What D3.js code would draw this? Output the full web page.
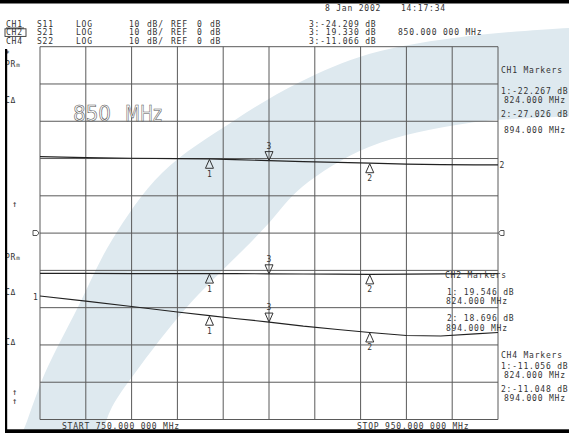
<!DOCTYPE html>
<html>
<head>
<meta charset="utf-8">
<script src="https://cdn.jsdelivr.net/npm/d3@7"></script>
<style>
  html, body { margin: 0; padding: 0; background: #fff; }
  svg { display: block; }
  .mono { font-family: "DejaVu Sans Mono", monospace; font-size: 8px; letter-spacing: 0.8px; fill: #333; }
</style>
</head>
<body>
<svg id="chart" width="569" height="433"></svg>
<script>
// ---- Sweep data (frequency in MHz, trace values in dB) ----
const freqMHz = [750, 770, 790, 810, 824, 835, 850, 865, 880, 894, 910, 925, 940, 950];
const s11dB = [-20.0, -21.0, -21.7, -22.0, -22.267, -23.2, -24.209, -25.3, -26.2, -27.026, -28.0, -28.6, -28.8, -28.9];
const s21dB = [19.8, 19.7, 19.6, 19.6, 19.546, 19.45, 19.330, 19.1, 18.9, 18.696, 18.9, 19.2, 19.5, 19.6];
const s22dB = [-4.07, -5.47, -6.89, -8.37, -9.36, -10.11, -11.066, -12.17, -13.06, -13.86, -14.67, -14.80, -14.21, -13.86];

// Markers: 1 and 2 are reference markers, 3 is the active marker
const markerIds = ["1", "2", "3"];
const markerFreqs = [824, 894, 850];

// Display scale per channel: top and bottom of graticule in dB
const ch1Domain = [98, -302];
const ch2Domain = [263, -137];
const ch4Domain = [62.8, -37.2];

// Frequency span
const sweepStart = 750, sweepStop = 950, xDivisions = 10, yDivisions = 10;

// Header / annotation text
const headerRows = [
  ["CH1", "S11", "LOG", "10", "dB/", "REF", "0", "dB"],
  ["CH2", "S21", "LOG", "10", "dB/", "REF", "0", "dB"],
  ["CH4", "S22", "LOG", "10", "dB/", "REF", "0", "dB"]
];
const dateText = ["8 Jan 2002", "14:17:34"];
const activeReadouts = ["3:-24.209 dB", "3: 19.330 dB", "3:-11.066 dB"];
const activeFreqText = "850.000 000 MHz";
const ch1MarkerText = ["CH1 Markers", "1:-22.267 dB", "824.000 MHz", "2:-27.026 dB", "894.000 MHz"];
const ch2MarkerText = ["CH2 Markers", "1: 19.546 dB", "824.000 MHz", "2: 18.696 dB", "894.000 MHz"];
const ch4MarkerText = ["CH4 Markers", "1:-11.056 dB", "824.000 MHz", "2:-11.048 dB", "894.000 MHz"];
const startText = "START 750.000 000 MHz";
const stopText = "STOP 950.000 000 MHz";
const titleText = ["850", "MHz"];

// ---- Layout ----
const W = 569, H = 433;
const plot = { left: 40, right: 498, top: 46.7, bottom: 419.5 };
const svg = d3.select("#chart");

const x = d3.scaleLinear().domain([sweepStart, sweepStop]).range([plot.left, plot.right]);
const divY = d3.scaleLinear().domain([0, yDivisions]).range([plot.top, plot.bottom]);
const yCh1 = d3.scaleLinear().domain(ch1Domain).range([plot.top, plot.bottom]);
const yCh2 = d3.scaleLinear().domain(ch2Domain).range([plot.top, plot.bottom]);
const yCh4 = d3.scaleLinear().domain(ch4Domain).range([plot.top, plot.bottom]);

svg.append("rect").attr("width", W).attr("height", H).attr("fill", "#fff");

// ---- Background swoosh ----
const outerEdge = [[10, 450], [22, 433], [32, 407], [45, 373], [78, 307], [112, 240], [162, 173], [235, 120], [300, 82], [369, 54], [469, 36], [585, 27]];
const innerEdge = [[585, 116], [469, 123], [369, 147], [302, 187], [269, 223], [253, 240], [187, 307], [135, 373], [112, 407], [102, 433], [96, 450]];
const edge = d3.line().curve(d3.curveCatmullRom);
svg.append("path")
  .attr("d", edge(outerEdge) + edge(innerEdge).replace(/^M/, "L") + "Z")
  .attr("fill", "#dee9ef");

// ---- Graticule ----
const g = svg.append("g");
const xLines = d3.range(0, xDivisions + 1).map(i => sweepStart + i * (sweepStop - sweepStart) / xDivisions);
g.selectAll("line.v").data(xLines).join("line")
  .attr("x1", d => x(d)).attr("x2", d => x(d))
  .attr("y1", plot.top).attr("y2", plot.bottom)
  .attr("stroke", "#5a5a5a").attr("stroke-width", 1);
g.selectAll("line.h").data(d3.range(0, yDivisions + 1)).join("line")
  .attr("x1", plot.left).attr("x2", plot.right)
  .attr("y1", d => divY(d)).attr("y2", d => divY(d))
  .attr("stroke", "#5a5a5a").attr("stroke-width", 1);

// ---- Traces ----
const channels = [
  { values: s11dB, y: yCh1 },
  { values: s21dB, y: yCh2 },
  { values: s22dB, y: yCh4 }
];
channels.forEach(ch => {
  const line = d3.line().x((d, i) => x(freqMHz[i])).y(d => ch.y(d));
  svg.append("path").attr("d", line(ch.values))
    .attr("fill", "none").attr("stroke", "#222").attr("stroke-width", 1.2);
});

// ---- Marker symbols ----
const mk = svg.append("g");
channels.forEach(ch => {
  markerIds.forEach((id, k) => {
    const f = markerFreqs[k];
    const mx = x(f);
    const my = ch.y(ch.values[freqMHz.indexOf(f)]);
    if (id === "3") {
      mk.append("path")
        .attr("d", `M${mx - 4},${my - 9} L${mx + 4},${my - 9} L${mx},${my} Z`)
        .attr("fill", "none").attr("stroke", "#333").attr("stroke-width", 1);
      mk.append("text").attr("class", "mono").attr("x", mx).attr("y", my - 12)
        .attr("text-anchor", "middle").style("letter-spacing", "0").text(id);
    } else {
      mk.append("path")
        .attr("d", `M${mx},${my + 0.5} L${mx + 4},${my + 9.5} L${mx - 4},${my + 9.5} Z`)
        .attr("fill", "none").attr("stroke", "#333").attr("stroke-width", 1);
      mk.append("text").attr("class", "mono").attr("x", mx).attr("y", my + 18)
        .attr("text-anchor", "middle").style("letter-spacing", "0").text(id);
    }
  });
});

// ---- Reference position indicators ----
svg.append("path").attr("d", `M33,230.5 L37,230.5 L39,233 L37,235.5 L33,235.5 Z`)
  .attr("fill", "#fff").attr("stroke", "#444").attr("stroke-width", 0.9);
svg.append("path").attr("d", `M504,230.5 L500.5,230.5 L498.5,233 L500.5,235.5 L504,235.5 Z`)
  .attr("fill", "#fff").attr("stroke", "#444").attr("stroke-width", 0.9);

// ---- Text helpers ----
function txt(s, tx, ty) {
  return svg.append("text").attr("class", "mono").attr("x", tx).attr("y", ty).text(s);
}

// Header rows
const headerX = [6, 37, 76, 129, 147, 171, 197, 210];
const headerBase = [26.5, 35, 43.5];
headerRows.forEach((row, r) => {
  row.forEach((s, c) => txt(s, headerX[c], headerBase[r]));
});
svg.append("line").attr("x1", 6).attr("x2", 24).attr("y1", 28).attr("y2", 28)
  .attr("stroke", "#333").attr("stroke-width", 0.9);
svg.append("rect").attr("x", 5).attr("y", 28.8).attr("width", 21).attr("height", 7.6)
  .attr("fill", "none").attr("stroke", "#333").attr("stroke-width", 0.9);

// Date and active marker readout
txt(dateText[0], 325, 11);
txt(dateText[1], 401, 11);
activeReadouts.forEach((s, i) => txt(s, 309, headerBase[i]));
txt(activeFreqText, 398, 35);

// Marker tables
const ch1Pos = [[501, 72.5], [501, 93.5], [504, 102.8], [501, 117], [504, 133]];
const ch2Pos = [[445, 278], [447, 295], [446, 304.3], [447, 321], [446, 330.5]];
const ch4Pos = [[501, 358], [501, 369], [504, 378.3], [501, 392], [504, 401]];
ch1MarkerText.forEach((s, i) => txt(s, ch1Pos[i][0], ch1Pos[i][1]));
ch2MarkerText.forEach((s, i) => txt(s, ch2Pos[i][0], ch2Pos[i][1]));
ch4MarkerText.forEach((s, i) => txt(s, ch4Pos[i][0], ch4Pos[i][1]));

// Left-side softkey annotations
txt("*", 5, 57);
[67, 260].forEach(b => {
  const t = txt("PR", 5, b);
  t.append("tspan").style("font-size", "6px").text("m");
});
[103, 295, 345].forEach(b => txt("C\u0394", 5, b));
[207, 395, 404].forEach(b => txt("\u2191", 12, b).style("letter-spacing", "0").style("font-size", "9px"));
txt("1", 33, 299.5).style("letter-spacing", "0");
txt("2", 499.5, 168).style("letter-spacing", "0");

// Sweep limits
txt(startText, 62, 428.5);
txt(stopText, 357, 428.5);

// Large outlined title
titleText.forEach((s, i) => {
  svg.append("text").attr("x", i === 0 ? 73 : 125).attr("y", 121)
    .attr("textLength", i === 0 ? 38 : 37).attr("lengthAdjust", "spacingAndGlyphs")
    .style("font-family", "DejaVu Sans").style("font-size", "21px")
    .attr("fill", "#fff").attr("stroke", "#555").attr("stroke-width", 0.6)
    .text(s);
});

// ---- Screen frame ----
svg.append("rect").attr("x", 0).attr("y", 0).attr("width", W).attr("height", 3.5).attr("fill", "#000");
svg.append("rect").attr("x", 5).attr("y", 49).attr("width", 2.2).attr("height", H - 49).attr("fill", "#000");
svg.append("rect").attr("x", 5).attr("y", 429.3).attr("width", W - 5).attr("height", 4).attr("fill", "#000");
</script>
</body>
</html>
